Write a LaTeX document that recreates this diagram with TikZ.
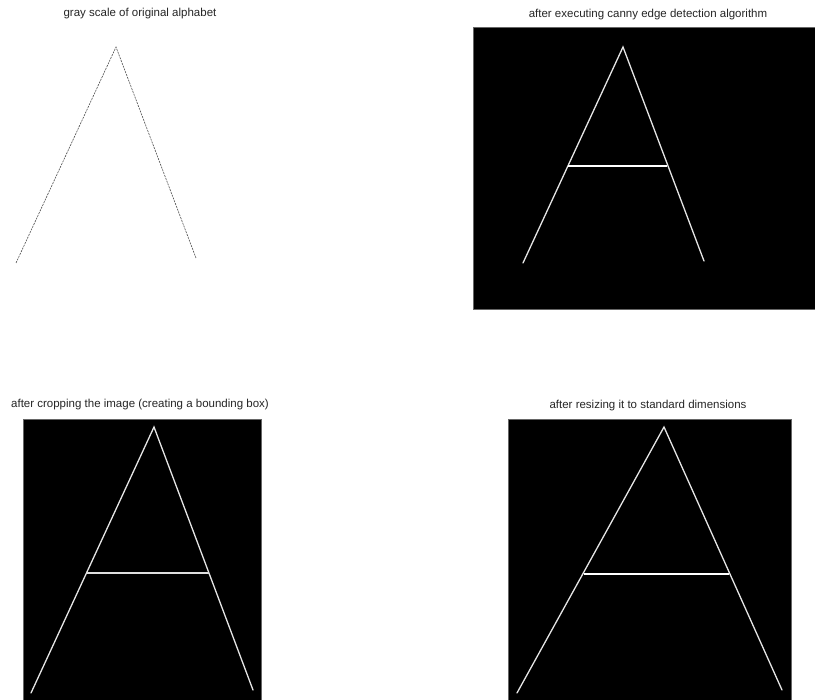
\documentclass[tikz,border=0pt]{standalone}
\usepackage{fontspec}
\setmainfont{Liberation Sans}
\begin{document}
\begin{tikzpicture}[x=1pt,y=-1pt,
  ttl/.style={font=\fontsize{11.5}{13}\selectfont, text=black!85, inner sep=0pt},
  panel/.style={fill=black, draw=black!60, line width=0.6pt},
  stroke/.style={draw=white!80!gray, line width=1.3pt, line cap=round},
  bar/.style={draw=white, line width=2pt},
  thinbar/.style={draw=white!75!gray, line width=1.2pt},
  graystroke/.style={draw=black!70, line width=0.6pt, dash pattern=on 2pt off 1pt}]
\useasboundingbox[fill=white] (0,0) rectangle (815,700);
% panel 1
\node[ttl] (t1) at (140,14) {gray scale of original alphabet};
\coordinate (a1) at (116,47);
\coordinate (l1) at (16,263);
\coordinate (r1) at (196,258);
\draw[graystroke] (l1) -- (a1) -- (r1);
% panel 2
\node[ttl] (t2) at (648,15) {after executing canny edge detection algorithm};
\draw[panel] (473,27) rectangle (815,309);
\coordinate (a2) at (623,47);
\coordinate (l2) at (523,263);
\coordinate (r2) at (704,261);
\coordinate (bl2) at (568,166);
\coordinate (br2) at (667,166);
\draw[stroke] (l2) -- (a2) -- (r2);
\draw[bar] (bl2) -- (br2);
% panel 3
\node[ttl] (t3) at (140,405) {after cropping the image (creating a bounding box)};
\draw[panel] (23,419) rectangle (261,700);
\coordinate (a3) at (154,427);
\coordinate (l3) at (31,693);
\coordinate (r3) at (253,690);
\coordinate (bl3) at (87,573);
\coordinate (br3) at (209,573);
\draw[stroke] (l3) -- (a3) -- (r3);
\draw[thinbar] (bl3) -- (br3);
% panel 4
\node[ttl] (t4) at (648,406) {after resizing it to standard dimensions};
\draw[panel] (508,419) rectangle (791,700);
\coordinate (a4) at (664,427);
\coordinate (l4) at (517,693);
\coordinate (r4) at (782,690);
\coordinate (bl4) at (584,574);
\coordinate (br4) at (729,574);
\draw[stroke] (l4) -- (a4) -- (r4);
\draw[bar] (bl4) -- (br4);
\end{tikzpicture}
\end{document}
